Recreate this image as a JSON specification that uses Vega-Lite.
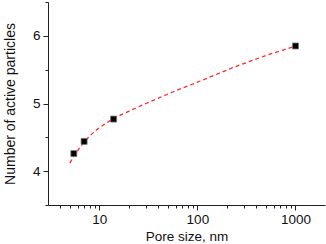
{
  "$schema": "https://vega.github.io/schema/vega-lite/v6.json",
  "width": 277,
  "height": 203,
  "autosize": "none",
  "padding": {"left": 48, "top": 2, "right": 1, "bottom": 39},
  "background": "white",
  "config": {
    "view": {"stroke": null},
    "font": "Liberation Sans",
    "axis": {"grid": false, "domainColor": "#222", "tickColor": "#222", "labelColor": "#111", "titleColor": "#111", "labelFont": "Liberation Sans", "titleFont": "Liberation Sans", "labelFontSize": 13.5, "titleFontSize": 13.5, "titleFontWeight": "normal"}
  },
  "resolve": {"axis": {"x": "independent", "y": "independent"}},
  "datasets": {
    "pts": [
      {"pore": 5.5, "n": 4.26, "lo": 4.22, "hi": 4.30},
      {"pore": 7, "n": 4.44, "lo": 4.41, "hi": 4.47},
      {"pore": 14, "n": 4.77, "lo": 4.74, "hi": 4.80},
      {"pore": 1000, "n": 5.85, "lo": 5.82, "hi": 5.88}
    ],
    "fit": [
      {"pore": 5.0, "n": 4.12},
      {"pore": 5.5, "n": 4.22},
      {"pore": 6.0, "n": 4.30},
      {"pore": 6.5, "n": 4.37},
      {"pore": 7, "n": 4.43},
      {"pore": 8, "n": 4.52},
      {"pore": 9, "n": 4.59},
      {"pore": 10, "n": 4.64},
      {"pore": 11.5, "n": 4.70},
      {"pore": 13, "n": 4.75},
      {"pore": 14, "n": 4.775},
      {"pore": 17, "n": 4.84},
      {"pore": 20, "n": 4.885},
      {"pore": 25, "n": 4.95},
      {"pore": 30, "n": 5.0},
      {"pore": 40, "n": 5.08},
      {"pore": 56, "n": 5.17},
      {"pore": 80, "n": 5.26},
      {"pore": 120, "n": 5.36},
      {"pore": 168, "n": 5.45},
      {"pore": 250, "n": 5.55},
      {"pore": 368, "n": 5.64},
      {"pore": 550, "n": 5.73},
      {"pore": 750, "n": 5.79},
      {"pore": 1000, "n": 5.85}
    ],
    "xminor": [
      {"v": 4}, {"v": 5}, {"v": 6}, {"v": 7}, {"v": 8}, {"v": 9},
      {"v": 20}, {"v": 30}, {"v": 40}, {"v": 50}, {"v": 60}, {"v": 70}, {"v": 80}, {"v": 90},
      {"v": 200}, {"v": 300}, {"v": 400}, {"v": 500}, {"v": 600}, {"v": 700}, {"v": 800}, {"v": 900}
    ]
  },
  "layer": [
    {
      "data": {"name": "fit"},
      "mark": {"type": "line", "color": "#ff2a2a", "strokeWidth": 1.3, "strokeDash": [4, 3], "clip": true},
      "encoding": {
        "x": {"field": "pore", "type": "quantitative", "scale": {"type": "log", "domain": [3, 2000], "nice": false},
          "axis": {"orient": "bottom", "values": [10, 100, 1000], "tickSize": 5, "labelPadding": 2, "title": "Pore size, nm", "titlePadding": 4, "format": "d", "labelFlush": false}},
        "y": {"field": "n", "type": "quantitative", "scale": {"domain": [3.5, 6.5], "nice": false, "zero": false},
          "axis": {"orient": "left", "values": [4, 5, 6], "tickSize": 5, "labelPadding": 3, "title": "Number of active particles", "titleFontSize": 14, "titlePadding": 15, "format": "d"}}
      }
    },
    {
      "data": {"name": "xminor"},
      "mark": {"type": "rule", "color": "#222", "strokeWidth": 1, "opacity": 0},
      "encoding": {
        "x": {"field": "v", "type": "quantitative", "axis": {"orient": "bottom", "values": [4,5,6,7,8,9,20,30,40,50,60,70,80,90,200,300,400,500,600,700,800,900], "labels": false, "tickSize": 3, "title": null, "domain": false}}
      }
    },
    {
      "data": {"name": "pts"},
      "mark": {"type": "rule", "color": "#888", "strokeWidth": 1.5},
      "encoding": {
        "x": {"field": "pore", "type": "quantitative", "axis": null},
        "y": {"field": "lo", "type": "quantitative", "axis": {"orient": "left", "values": [3.5, 4.5, 5.5, 6.5], "labels": false, "tickSize": 3, "title": null, "domain": false}},
        "y2": {"field": "hi"}
      }
    },
    {
      "data": {"name": "pts"},
      "mark": {"type": "point", "shape": "square", "filled": true, "color": "#000", "size": 36, "opacity": 1, "stroke": "#777", "strokeWidth": 0.8},
      "encoding": {
        "x": {"field": "pore", "type": "quantitative", "axis": null},
        "y": {"field": "n", "type": "quantitative", "axis": null}
      }
    }
  ]
}
